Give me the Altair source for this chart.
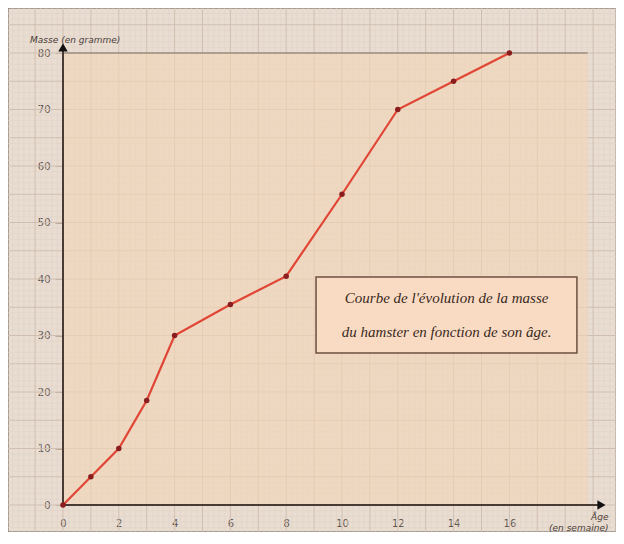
import altair as alt
import pandas as pd
import numpy as np

# ---- data ----
age_weeks = [0, 1, 2, 3, 4, 6, 8, 10, 12, 14, 16]
mass_g = [0, 5, 10, 18.5, 30, 35.5, 40.5, 55, 70, 75, 80]
x_ticks = [0, 2, 4, 6, 8, 10, 12, 14, 16]
y_ticks = [0, 10, 20, 30, 40, 50, 60, 70, 80]
box_lines = ["Courbe de l'évolution de la masse", "du hamster en fonction de son âge."]
x_title_lines = ["Âge", "(en semaine)"]
y_title = "Masse (en gramme)"

# ---- layout ----
W, H = 608, 524
X0_PX, Y0_PX = 55, 497          # origin inside plot area (px)
PX_X, PX_Y = 27.9, 5.65         # px per week / per gram
x_dom = [-X0_PX / PX_X, (W - X0_PX) / PX_X]
y_dom = [-(H - Y0_PX) / PX_Y, Y0_PX / PX_Y]

XS = alt.Scale(domain=x_dom, nice=False, zero=False)
YS = alt.Scale(domain=y_dom, nice=False, zero=False)

LABEL_COL = "#5e5650"
X_AX = alt.Axis(values=x_ticks, offset=-(H - Y0_PX), domain=False, grid=False,
                ticks=False, labelPadding=13, labelFontSize=10,
                labelColor=LABEL_COL, title=None, labelFont="DejaVu Sans")
Y_AX = alt.Axis(values=y_ticks, offset=-X0_PX, domain=False, grid=False,
                ticks=True, tickSize=8, tickColor="#b8a89a", labelPadding=5,
                labelFontSize=10, labelColor=LABEL_COL, title=None,
                labelFont="DejaVu Sans")


def X(field=None, datum=None, **kw):
    if datum is not None:
        return alt.X(datum=datum, scale=XS, axis=X_AX, type="quantitative", **kw)
    return alt.X(field, type="quantitative", scale=XS, axis=X_AX, **kw)


def Y(field=None, datum=None, **kw):
    if datum is not None:
        return alt.Y(datum=datum, scale=YS, axis=Y_AX, type="quantitative", **kw)
    return alt.Y(field, type="quantitative", scale=YS, axis=Y_AX, **kw)


# graph-paper grid
gx_minor = np.round(np.arange(np.ceil(x_dom[0] / 0.2) * 0.2, x_dom[1], 0.2), 3)
gy_minor = np.round(np.arange(np.ceil(y_dom[0]), y_dom[1], 1.0), 3)
gx = pd.DataFrame({"v": gx_minor, "major": np.isclose(gx_minor % 1, 0) | np.isclose(gx_minor % 1, 1)})
gy = pd.DataFrame({"v": gy_minor, "major": np.isclose(gy_minor % 5, 0) | np.isclose(gy_minor % 5, 5)})

grid_x_minor = alt.Chart(gx[~gx.major]).mark_rule(color="#dfd2c6", strokeWidth=0.6).encode(x=X("v"))
grid_y_minor = alt.Chart(gy[~gy.major]).mark_rule(color="#dfd2c6", strokeWidth=0.6).encode(y=Y("v"))
grid_x_major = alt.Chart(gx[gx.major]).mark_rule(color="#d0bfb1", strokeWidth=1).encode(x=X("v"))
grid_y_major = alt.Chart(gy[gy.major]).mark_rule(color="#d0bfb1", strokeWidth=1).encode(y=Y("v"))

one = pd.DataFrame({"a": [0]})

area = alt.Chart(one).mark_rect(color="#f3d5b6", opacity=0.6).encode(
    x=X(datum=0), x2=alt.X2(datum=18.8), y=Y(datum=0), y2=alt.Y2(datum=80))
top_line = alt.Chart(one).mark_rule(color="#9c8c80", strokeWidth=1.5).encode(
    x=X(datum=0), x2=alt.X2(datum=18.8), y=Y(datum=80))

x_axis_line = alt.Chart(one).mark_rule(color="#4a3c34", strokeWidth=2).encode(
    x=X(datum=0), x2=alt.X2(datum=19.2), y=Y(datum=0))
y_axis_line = alt.Chart(one).mark_rule(color="#4a3c34", strokeWidth=2).encode(
    x=X(datum=0), y=Y(datum=0), y2=alt.Y2(datum=80.8))
x_arrow = alt.Chart(one).mark_point(shape="triangle-right", filled=True, color="#111111",
                                    size=90, opacity=1).encode(x=X(datum=19.3), y=Y(datum=0))
y_arrow = alt.Chart(one).mark_point(shape="triangle-up", filled=True, color="#111111",
                                    size=90, opacity=1).encode(x=X(datum=0), y=Y(datum=81.0))

df = pd.DataFrame({"age": age_weeks, "mass": mass_g})
line = alt.Chart(df).mark_line(color="#e04535", strokeWidth=2.2).encode(x=X("age"), y=Y("mass"))
pts = alt.Chart(df).mark_point(filled=True, color="#8a1d1d", size=30, opacity=1).encode(
    x=X("age"), y=Y("mass"))

box = alt.Chart(one).mark_rect(fill="#f9dbc4", stroke="#6e5040", strokeWidth=1.5).encode(
    x=X(datum=9.07), x2=alt.X2(datum=18.42), y=Y(datum=40.35), y2=alt.Y2(datum=26.9))
box_df = pd.DataFrame({"t": box_lines, "yy": [36.7, 30.7]})
box_text = alt.Chart(box_df).mark_text(font="Liberation Serif", fontStyle="italic",
                                       fontSize=15, color="#3a2a22", baseline="middle").encode(
    x=X(datum=13.75), y=Y("yy"), text="t:N")

y_title_txt = alt.Chart(one).mark_text(text=y_title, font="DejaVu Sans", fontSize=9,
                                       fontStyle="italic", color="#4a403a", align="left",
                                       baseline="middle").encode(x=X(datum=-1.18), y=Y(datum=82.3))
xt_df = pd.DataFrame({"t": x_title_lines, "yy": [-2.1, -4.0]})
x_title_txt = alt.Chart(xt_df).mark_text(font="DejaVu Sans", fontSize=9, fontStyle="italic",
                                         color="#4a403a", align="right", baseline="middle").encode(
    x=X(datum=19.55), y=Y("yy"), text="t:N")

chart = alt.layer(
    grid_x_minor, grid_y_minor, grid_x_major, grid_y_major,
    area, top_line, x_axis_line, y_axis_line, x_arrow, y_arrow,
    line, pts, box, box_text, y_title_txt, x_title_txt,
).properties(
    width=W, height=H, padding=0, autosize=alt.AutoSizeParams(type="none"),
    background="#ffffff",
).configure_view(fill="#e9ddd2", stroke="#8f8580", strokeWidth=1.5)

chart.save("out.html", embed_options={"renderer": "svg", "actions": False})
